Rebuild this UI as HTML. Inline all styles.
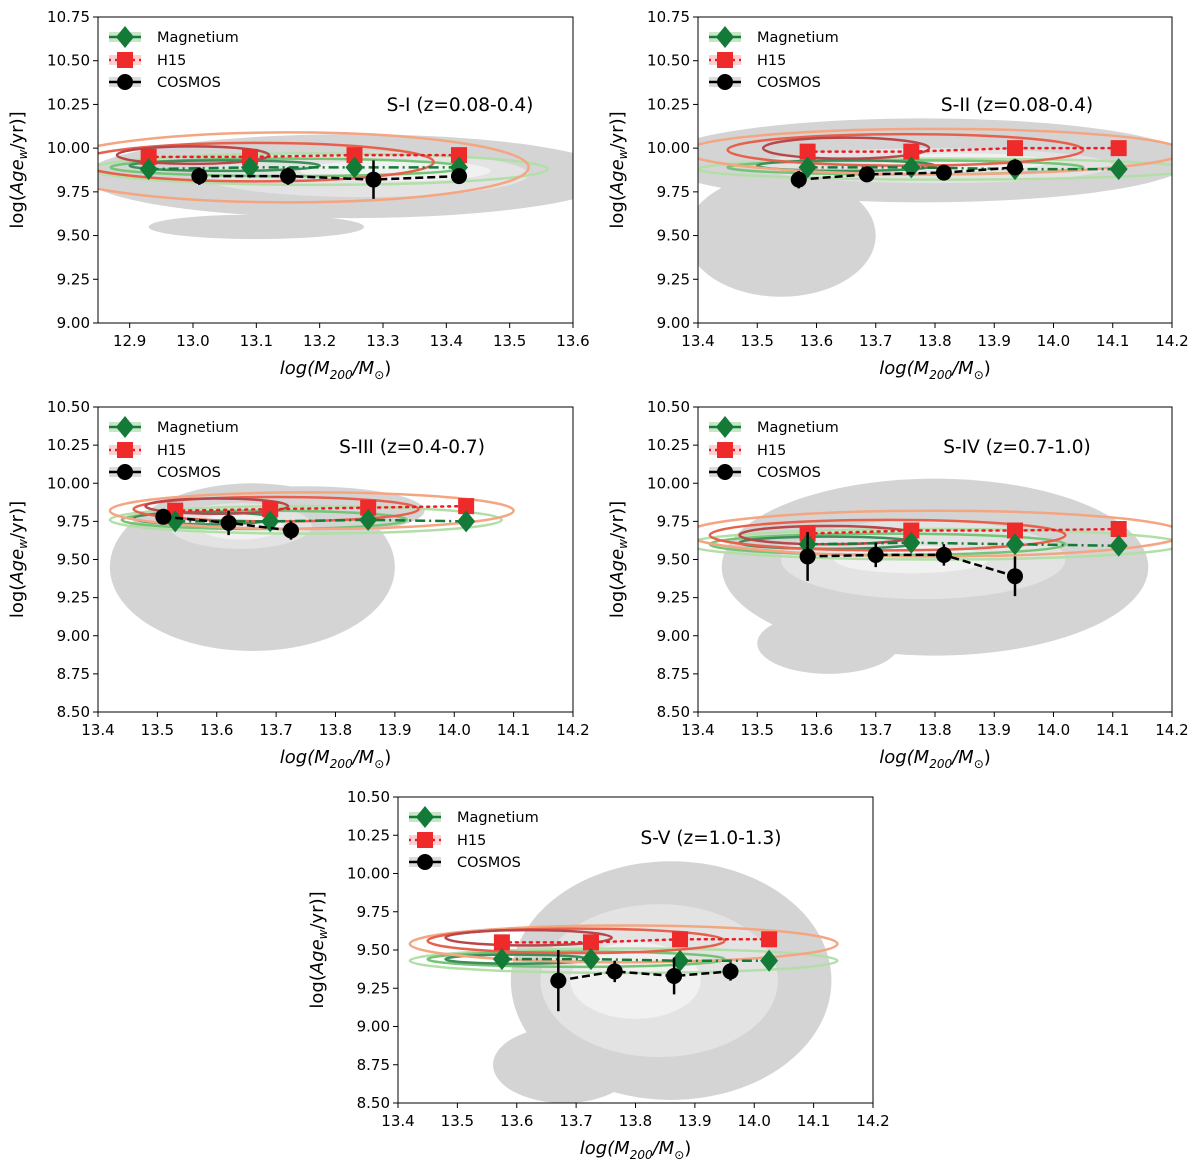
<!DOCTYPE html>
<html><head><meta charset="utf-8"><style>body{margin:0;background:#fff}svg{display:block;font-family:"DejaVu Sans","Liberation Sans",sans-serif}</style></head>
<body>
<svg id="fig" width="1200" height="1169" viewBox="0 0 1200 1169"></svg>
<script>
// ---- data ----
const panelTitles=["S-I (z=0.08-0.4)","S-II (z=0.08-0.4)","S-III (z=0.4-0.7)","S-IV (z=0.7-1.0)","S-V (z=1.0-1.3)"];
const xRanges=[[12.85,13.6],[13.4,14.2],[13.4,14.2],[13.4,14.2],[13.4,14.2]];
const yRanges=[[9.0,10.75],[9.0,10.75],[8.5,10.5],[8.5,10.5],[8.5,10.5]];
const xTicks1=[12.9,13.0,13.1,13.2,13.3,13.4,13.5,13.6];
const xTicksB=[13.4,13.5,13.6,13.7,13.8,13.9,14.0,14.1,14.2];
const yTicksA=[9.0,9.25,9.5,9.75,10.0,10.25,10.5,10.75];
const yTicksB=[8.5,8.75,9.0,9.25,9.5,9.75,10.0,10.25,10.5];
const magX=[[12.93,13.09,13.255,13.42],[13.585,13.76,13.935,14.11],[13.53,13.69,13.855,14.02],[13.585,13.76,13.935,14.11],[13.575,13.725,13.875,14.025]];
const magY=[[9.88,9.89,9.89,9.89],[9.89,9.89,9.88,9.88],[9.75,9.75,9.76,9.75],[9.60,9.61,9.60,9.59],[9.44,9.44,9.43,9.43]];
const h15Y=[[9.95,9.95,9.96,9.96],[9.98,9.98,10.0,10.0],[9.82,9.83,9.84,9.85],[9.67,9.69,9.69,9.70],[9.55,9.55,9.57,9.57]];
const cosX=[[13.01,13.15,13.285,13.42],[13.57,13.685,13.815,13.935],[13.51,13.62,13.725],[13.585,13.7,13.815,13.935],[13.67,13.765,13.865,13.96]];
const cosY=[[9.84,9.84,9.82,9.84],[9.82,9.85,9.86,9.89],[9.78,9.74,9.69],[9.52,9.53,9.53,9.39],[9.30,9.36,9.33,9.36]];
const cosErr=[[0.05,0.05,0.11,0.04],[0.05,0.03,0.03,0.04],[0.03,0.08,0.06],[0.16,0.08,0.07,0.13],[0.2,0.07,0.12,0.06]];
// contour blobs: [cx,cy,rx,ry]
const greyBlobs=[
 [[13.25,9.84,0.42,0.24],[13.1,9.55,0.17,0.07],[13.27,9.85,0.26,0.13],[13.32,9.87,0.15,0.06]],
 [[13.78,9.93,0.45,0.24],[13.54,9.5,0.16,0.35],[13.8,9.9,0.3,0.1],[13.85,9.92,0.14,0.05]],
 [[13.66,9.45,0.24,0.55],[13.75,9.82,0.2,0.16],[13.64,9.72,0.12,0.15],[13.64,9.72,0.07,0.09]],
 [[13.8,9.45,0.36,0.58],[13.62,8.95,0.12,0.2],[13.78,9.5,0.24,0.26],[13.76,9.5,0.13,0.09]],
 [[13.86,9.3,0.27,0.78],[13.68,8.75,0.12,0.25],[13.84,9.3,0.2,0.5],[13.8,9.3,0.11,0.25]]];
const redBlobs=[
 [[13.15,9.89,0.38,0.2],[13.1,9.92,0.28,0.11],[13.0,9.96,0.12,0.05]],
 [[13.8,9.98,0.42,0.13],[13.75,9.99,0.3,0.09],[13.65,10.0,0.14,0.06]],
 [[13.76,9.82,0.34,0.12],[13.7,9.83,0.24,0.08],[13.6,9.85,0.12,0.05]],
 [[13.8,9.67,0.42,0.15],[13.72,9.66,0.3,0.1],[13.62,9.66,0.15,0.06]],
 [[13.78,9.54,0.36,0.12],[13.7,9.56,0.25,0.08],[13.62,9.58,0.14,0.05]]];
const greenBlobs=[
 [[13.2,9.88,0.36,0.09],[13.15,9.89,0.28,0.05],[13.05,9.9,0.15,0.03]],
 [[13.82,9.88,0.42,0.06],[13.75,9.89,0.3,0.04],[13.65,9.9,0.15,0.03]],
 [[13.75,9.76,0.33,0.09],[13.68,9.76,0.24,0.06],[13.58,9.77,0.12,0.04]],
 [[13.8,9.6,0.42,0.1],[13.72,9.6,0.3,0.07],[13.62,9.61,0.15,0.04]],
 [[13.78,9.43,0.36,0.08],[13.7,9.44,0.25,0.05],[13.6,9.44,0.12,0.03]]];
const boxes=[[98,17,573,323],[698,17,1172,323],[98,407,573,712],[698,407,1172,712],[398,797,873,1103]];
const titlePos=[[460,105],[1017,105],[412,447],[1017,447],[711,838]];
const greyCols=["#d4d4d4","#d4d4d4","#e3e3e3","#f1f1f1"];
const redCols=["#f4a582","#e8604c","#b8474a"];
const greenCols=["#b2dfa8","#74c476","#3d8f5a"];

const NS="http://www.w3.org/2000/svg";
const svg=document.getElementById('fig');
function mk(tag,attrs,parent){const e=document.createElementNS(NS,tag);for(const k in attrs)e.setAttribute(k,attrs[k]);(parent||svg).appendChild(e);return e;}

for(let p=0;p<5;p++){
 const [L,T,R,B]=boxes[p];
 const [x0,x1]=xRanges[p],[y0,y1]=yRanges[p];
 const sx=v=>L+(v-x0)/(x1-x0)*(R-L);
 const sy=v=>B-(v-y0)/(y1-y0)*(B-T);
 const g=mk('g',{});
 
 
 const cid='clip'+p;
 const cp=mk('clipPath',{id:cid},g);mk('rect',{x:L,y:T,width:R-L,height:B-T},cp);
 const plot=mk('g',{'clip-path':'url(#'+cid+')'},g);
 greyBlobs[p].forEach((b,i)=>{
  const e=mk('ellipse',{cx:sx(b[0]),cy:sy(b[1]),rx:b[2]/(x1-x0)*(R-L),ry:b[3]/(y1-y0)*(B-T),fill:greyCols[i]},plot);
  
  
 });
 greenBlobs[p].forEach((b,i)=>{
  const e=mk('ellipse',{cx:sx(b[0]),cy:sy(b[1]),rx:b[2]/(x1-x0)*(R-L),ry:b[3]/(y1-y0)*(B-T),fill:'none',stroke:greenCols[i],'stroke-width':2.5},plot);
  
  
 });
 redBlobs[p].forEach((b,i)=>{
  const e=mk('ellipse',{cx:sx(b[0]),cy:sy(b[1]),rx:b[2]/(x1-x0)*(R-L),ry:b[3]/(y1-y0)*(B-T),fill:'none',stroke:redCols[i],'stroke-width':2.5},plot);
  
  
 });
 const hp=magX[p].map((x,i)=>sx(x)+','+sy(h15Y[p][i])).join(' ');
 mk('polyline',{points:hp,fill:'none',stroke:'#ee1c25','stroke-width':2.5,'stroke-dasharray':'2,5','stroke-linecap':'round'},plot);
 magX[p].forEach((x,i)=>{
  const r=mk('rect',{x:sx(x)-8,y:sy(h15Y[p][i])-8,width:16,height:16,fill:'#ee2a2a'},plot);
  
  
 });
 const mp=magX[p].map((x,i)=>sx(x)+','+sy(magY[p][i])).join(' ');
 mk('polyline',{points:mp,fill:'none',stroke:'#137a38','stroke-width':2.5,'stroke-dasharray':'10,4,2,4'},plot);
 magX[p].forEach((x,i)=>{
  const cx=sx(x),cy=sy(magY[p][i]);
  const d=mk('polygon',{points:`${cx},${cy-11} ${cx+9},${cy} ${cx},${cy+11} ${cx-9},${cy}`,fill:'#137a38'},plot);
  
  
 });
 const cpp=cosX[p].map((x,i)=>sx(x)+','+sy(cosY[p][i])).join(' ');
 mk('polyline',{points:cpp,fill:'none',stroke:'#000','stroke-width':2.5,'stroke-dasharray':'8,4'},plot);
 cosX[p].forEach((x,i)=>{
  const cx=sx(x);
  mk('line',{x1:cx,x2:cx,y1:sy(cosY[p][i]-cosErr[p][i]),y2:sy(cosY[p][i]+cosErr[p][i]),stroke:'#000','stroke-width':2.5},plot);
  const c=mk('circle',{cx:cx,cy:sy(cosY[p][i]),r:8,fill:'#000'},plot);
  
  
 });
 mk('rect',{x:L,y:T,width:R-L,height:B-T,fill:'none',stroke:'#000','stroke-width':1},g);
 const xt=p===0?xTicks1:xTicksB, yt=p<2?yTicksA:yTicksB;
 xt.forEach(v=>{const X=sx(v);mk('line',{x1:X,x2:X,y1:B,y2:B+5,stroke:'#000'},g);
  const t=mk('text',{x:X,y:B+23,'text-anchor':'middle','font-size':15},g);t.textContent=v.toFixed(1);
  });
 yt.forEach(v=>{const Y=sy(v);mk('line',{x1:L-5,x2:L,y1:Y,y2:Y,stroke:'#000'},g);
  const t=mk('text',{x:L-8,y:Y+5,'text-anchor':'end','font-size':15},g);t.textContent=v.toFixed(2);
  });
 const xl=mk('text',{x:(L+R)/2,y:B+51,'text-anchor':'middle','font-size':18},g);
 xl.innerHTML='<tspan font-style="italic">log(M</tspan><tspan font-style="italic" font-size="12" dy="5">200</tspan><tspan font-style="italic" dy="-5">/M</tspan><tspan font-size="12" dy="5">⊙</tspan><tspan dy="-5">)</tspan>';
 
 const yl=mk('text',{transform:`translate(${L-75},${(T+B)/2}) rotate(-90)`,'text-anchor':'middle','font-size':18},g);
 yl.innerHTML='log(<tspan font-style="italic">Age</tspan><tspan font-style="italic" font-size="12" dy="4">w</tspan><tspan dy="-4">/yr)]</tspan>';
 
 const tt=mk('text',{x:titlePos[p][0],y:titlePos[p][1]+6,'text-anchor':'middle','font-size':18.5},g);
 tt.textContent=panelTitles[p];
 
 const lg=mk('g',{},g);
 
 const ly=[T+20,T+43,T+65], lx=L+27;
 mk('rect',{x:lx-16,y:ly[0]-5,width:32,height:10,fill:'#c7e6c7'},lg);
 mk('line',{x1:lx-16,x2:lx+16,y1:ly[0],y2:ly[0],stroke:'#137a38','stroke-width':2.5},lg);
 mk('polygon',{points:`${lx},${ly[0]-11} ${lx+9},${ly[0]} ${lx},${ly[0]+11} ${lx-9},${ly[0]}`,fill:'#137a38'},lg);
 mk('rect',{x:lx-16,y:ly[1]-5,width:32,height:10,fill:'#fbd0d0'},lg);
 mk('line',{x1:lx-16,x2:lx+16,y1:ly[1],y2:ly[1],stroke:'#ee1c25','stroke-width':2.5,'stroke-dasharray':'2,4'},lg);
 mk('rect',{x:lx-8,y:ly[1]-8,width:16,height:16,fill:'#ee2a2a'},lg);
 mk('rect',{x:lx-16,y:ly[2]-5,width:32,height:10,fill:'#dcdcdc'},lg);
 mk('line',{x1:lx-16,x2:lx+16,y1:ly[2],y2:ly[2],stroke:'#000','stroke-width':2.5,'stroke-dasharray':'8,4'},lg);
 mk('circle',{cx:lx,cy:ly[2],r:8,fill:'#000'},lg);
 ["Magnetium","H15","COSMOS"].forEach((s,i)=>{const t=mk('text',{x:lx+32,y:ly[i]+5,'font-size':14.5},lg);t.textContent=s;
  });
}
</script>
</body></html>
